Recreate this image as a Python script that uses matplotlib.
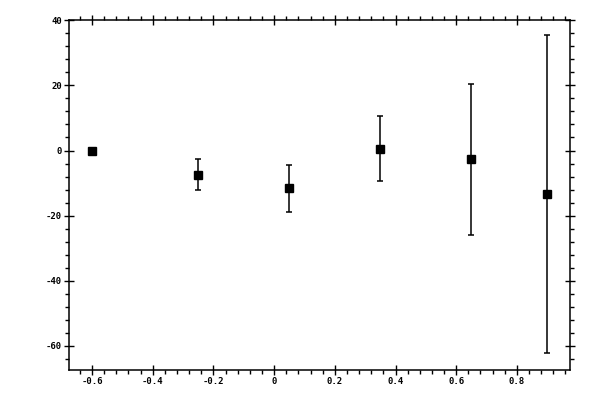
import matplotlib

matplotlib.use("Agg")

import matplotlib.pyplot as plt
from matplotlib.ticker import MultipleLocator

# values
x_vals = [-0.6, -0.25, 0.05, 0.35, 0.65, 0.9]
y_vals = [0.0, -7.4, -11.6, 0.6, -2.7, -13.4]
y_errs = [0.0, 4.7, 7.3, 10.0, 23.2, 48.8]

fig = plt.figure(figsize=(6, 4), dpi=100)
ax = fig.add_axes([0.1155, 0.075, 0.8345, 0.876])

ax.errorbar(x_vals, y_vals, yerr=y_errs, fmt="s", color="black",
            markersize=5.2, elinewidth=1.1, capsize=2.0, capthick=1.1)

ax.set_xlim(-0.675, 0.975)
ax.set_ylim(-67.4, 40.2)

ax.xaxis.set_major_locator(MultipleLocator(0.2))
ax.xaxis.set_minor_locator(MultipleLocator(0.04))
ax.yaxis.set_major_locator(MultipleLocator(20))
ax.yaxis.set_minor_locator(MultipleLocator(4))

ax.set_xticks([-0.6, -0.4, -0.2, 0, 0.2, 0.4, 0.6, 0.8])
ax.set_xticklabels(["-0.6", "-0.4", "-0.2", "0", "0.2", "0.4", "0.6", "0.8"])
ax.set_yticks([-60, -40, -20, 0, 20, 40])
ax.set_yticklabels(["-60", "-40", "-20", "0", "20", "40"])

for s in ax.spines.values():
    s.set_linewidth(1.1)
    s.set_color("black")

ax.tick_params(which="major", direction="inout", length=6.5, width=1.0,
               top=True, right=True, labelsize=6.5, pad=2)
ax.tick_params(which="minor", direction="out", length=3, width=1.0,
               top=True, right=True)
for lab in ax.get_xticklabels() + ax.get_yticklabels():
    lab.set_family("DejaVu Sans Mono")
    lab.set_fontweight("bold")

fig.savefig("out.png", dpi=100)
